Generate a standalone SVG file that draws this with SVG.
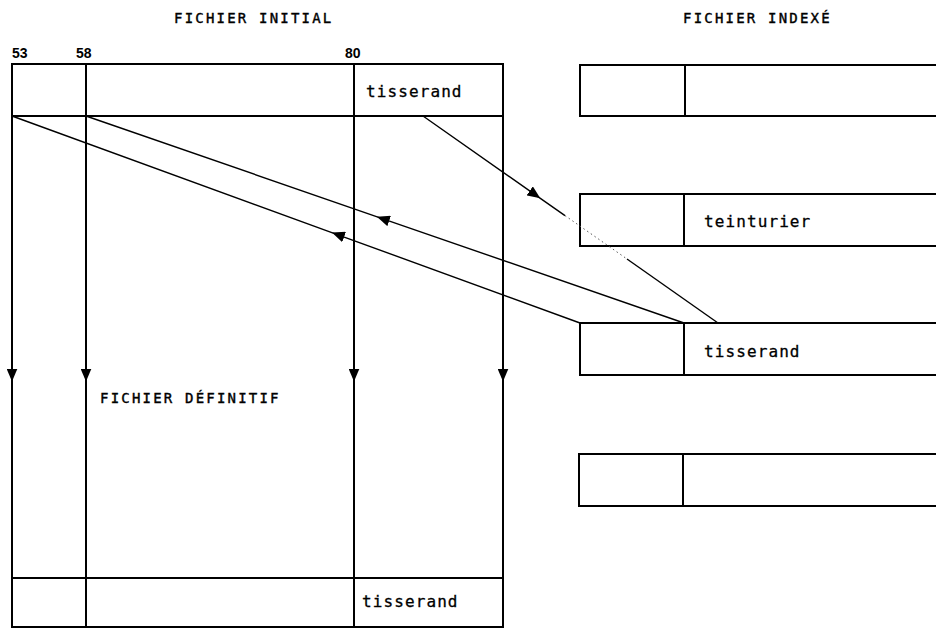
<svg xmlns="http://www.w3.org/2000/svg" width="936" height="629" viewBox="0 0 936 629">
<style>
.box{fill:none;stroke:#000;stroke-width:2}
.ln{fill:none;stroke:#000;stroke-width:2}
.dg{fill:none;stroke:#000;stroke-width:1.4}
.dot{fill:none;stroke:#555;stroke-width:1;stroke-dasharray:1.5 3}
.t{font-family:"DejaVu Sans Mono","Liberation Mono",monospace;font-size:16px;letter-spacing:1.1px;fill:#000;stroke:#000;stroke-width:0.3}
.h{font-family:"DejaVu Sans Mono","Liberation Mono",monospace;font-size:14px;letter-spacing:2.2px;fill:#000;stroke:#000;stroke-width:0.4}
.n{font-family:"Liberation Sans",Arial,sans-serif;font-size:14px;font-weight:bold;fill:#000}
</style>
<defs>
<marker id="ah" viewBox="0 0 13 11" refX="6.5" refY="5.5" markerWidth="13" markerHeight="11" markerUnits="userSpaceOnUse" orient="auto">
<path d="M0,0 L13,5.5 L0,11 z" fill="#000"/>
</marker>
</defs>
<rect width="936" height="629" fill="#fff"/>
<g id="titles">
<text class="h" x="174" y="23">FICHIER INITIAL</text>
<text class="h" x="683" y="23">FICHIER INDEXÉ</text>
</g>
<g id="fichier-initial">
<rect class="box" x="12" y="64" width="491" height="563"/>
<line class="ln" x1="12" y1="116" x2="503" y2="116"/>
<line class="ln" x1="12" y1="578" x2="503" y2="578"/>
<line class="ln" x1="86" y1="64" x2="86" y2="116"/>
<line class="ln" x1="354" y1="64" x2="354" y2="116"/>
<line class="ln" x1="86" y1="578" x2="86" y2="627"/>
<line class="ln" x1="354" y1="578" x2="354" y2="627"/>
<text class="n" x="12" y="58">53</text>
<text class="n" x="76" y="58">58</text>
<text class="n" x="345" y="58">80</text>
<text class="t" x="366" y="97">tisserand</text>
<text class="t" x="362" y="607">tisserand</text>
<text class="h" x="100" y="403">FICHIER DÉFINITIF</text>
</g>
<g id="index-1">
<rect class="box" x="580" y="65" width="360" height="51"/>
<line class="ln" x1="685" y1="65" x2="685" y2="116"/>
</g>
<g id="index-2">
<rect class="box" x="580" y="194" width="360" height="52"/>
<line class="ln" x1="684" y1="194" x2="684" y2="246"/>
<text class="t" x="704" y="227">teinturier</text>
</g>
<g id="index-3">
<rect class="box" x="580" y="323" width="360" height="52"/>
<line class="ln" x1="684" y1="323" x2="684" y2="375"/>
<text class="t" x="704" y="357">tisserand</text>
</g>
<g id="index-4">
<rect class="box" x="579" y="454" width="361" height="52"/>
<line class="ln" x1="683" y1="454" x2="683" y2="506"/>
</g>
<g id="connectors">
<path class="ln" d="M12,116 L12,375 L12,578" marker-mid="url(#ah)"/>
<path class="ln" d="M86,116 L86,375 L86,578" marker-mid="url(#ah)"/>
<path class="ln" d="M354,116 L354,375 L354,578" marker-mid="url(#ah)"/>
<path class="ln" d="M503,116 L503,375 L503,578" marker-mid="url(#ah)"/>
<path class="dg" d="M684,323 L383,218.8 L86,116" marker-mid="url(#ah)"/>
<path class="dg" d="M580,323 L338,234.8 L12,116" marker-mid="url(#ah)"/>
<path class="dg" d="M423,116 L535,194.6 L565,215.6" marker-mid="url(#ah)"/>
<line class="dot" x1="565" y1="215.6" x2="627" y2="259"/>
<line class="dg" x1="627" y1="259" x2="718" y2="323"/>
</g>
</svg>
